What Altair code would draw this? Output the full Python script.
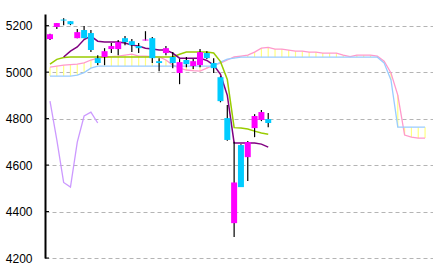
import altair as alt
import pandas as pd

# ---- candles (index 0..32) ----
opens  = [5142, 5194, 5226, 5219, 5146, 5181, 5168, 5060, 5065, 5099, 5099, 5146, 5133, 5112, 5136, 5146, 5047,
          5082, 5065, 4996, 5052, 5026, 5030, 5082, 5039, 4978, 4802, 4350, 4686, 4634, 4759, 4794, 4798]
highs  = [5165, 5211, 5232, 5219, 5185, 5198, 5181, 5073, 5103, 5125, 5138, 5155, 5142, 5125, 5176, 5151, 5060,
          5112, 5086, 5056, 5065, 5056, 5099, 5090, 5060, 4982, 4858, 4700, 4690, 4703, 4819, 4837, 4824]
lows   = [5138, 5185, 5202, 5202, 5146, 5146, 5086, 5030, 5030, 5082, 5073, 5116, 5086, 5082, 5136, 5039, 5004,
          5073, 5017, 4948, 5021, 5013, 5021, 5056, 4996, 4870, 4705, 4290, 4505, 4531, 4720, 4789, 4763]
closes = [5163, 5211, 5222, 5206, 5172, 5146, 5095, 5039, 5090, 5112, 5129, 5129, 5116, 5103, 5140, 5060, 5039,
          5103, 5039, 5043, 5034, 5047, 5086, 5060, 5017, 4875, 4708, 4525, 4505, 4699, 4811, 4828, 4781]

# ---- indicator lines ----
tenkan = [None, None, 5065, 5090, 5108, 5140, 5155, 5133, 5129, 5129, 5129, 5125, 5116, 5112, 5103, 5099, 5095,
          5095, 5082, 5060, 5060, 5060, 5060, 5050, 5030, 4990, 4900, 4695, 4695, 4695, 4695, 4690, 4677]
kijun = [5034, 5055, 5063, 5065, 5065, 5065, 5065, 5065, 5065, 5065, 5065, 5065, 5065, 5065, 5065, 5065, 5065,
         5065, 5065, 5077, 5086, 5086, 5086, 5086, 5082, 5045, 4968, 4761, 4759, 4755, 4746, 4738, 4733]
span_a = [5021, 5026, 5030, 5032, 5034, 5040, 5052, 5060, 5065, 5067, 5069, 5073, 5077, 5069, 5069, 5067, 5065,
          5052, 5030, 5017, 5009, 5006, 5004, 5017, 5030, 5039, 5052, 5065, 5069, 5073, 5086, 5103, 5106, 5099,
          5099, 5095, 5090, 5090, 5086, 5086, 5082, 5082, 5082, 5073, 5067, 5073, 5073, 5073, 5069, 5047, 4996,
          4901, 4729, 4720, 4716, 4716]
span_b = [4983, 4983, 4983, 4983, 4987, 4998, 5017, 5026, 5026, 5026, 5026, 5026, 5026, 5026, 5026, 5026, 5026,
          5026, 5026, 5026, 5026, 5026, 5026, 5026, 5026, 5043, 5056, 5060, 5064, 5064, 5064, 5064, 5064, 5064,
          5064, 5064, 5064, 5064, 5064, 5064, 5064, 5064, 5064, 5064, 5064, 5064, 5064, 5064, 5064, 5039, 4966,
          4763, 4763, 4763, 4763, 4763]
chikou = [4875, 4708, 4525, 4505, 4699, 4811, 4828, 4781]
y_ticks = [4200, 4400, 4600, 4800, 5000, 5200]

candles = pd.DataFrame({"k": list(range(len(opens))), "open": opens, "high": highs,
                        "low": lows, "close": closes})
cloud = pd.DataFrame({"k": list(range(len(span_a))), "a": span_a, "b": span_b})
ten_df = pd.DataFrame({"k": list(range(len(tenkan))), "v": tenkan}).dropna()
kij_df = pd.DataFrame({"k": list(range(len(kijun))), "v": kijun})
chi_df = pd.DataFrame({"k": list(range(len(chikou))), "v": chikou})
tick_df = pd.DataFrame({"v": y_ticks})

XS = alt.Scale(domain=[0, 55.43], nice=False, zero=False)
YS = alt.Scale(domain=[4200, 5250], nice=False, zero=False)
YAX = alt.Axis(values=y_ticks, title=None, grid=True, gridDash=[4, 3], gridColor="#b4b4b4",
               gridWidth=1, ticks=False, domain=True, domainColor="#000000", domainWidth=2,
               labelFont="Liberation Sans", labelFontSize=12, labelColor="#000000", labelPadding=13,
               format="d")


def xk():
    return alt.X("k:Q", scale=XS, axis=None)


def yv(field):
    return alt.Y(field, scale=YS, axis=YAX, title=None)


inticks = alt.Chart(tick_df).mark_rule(color="#000000", strokeWidth=1).encode(
    x=alt.value(0), x2=alt.value(4), y=yv("v:Q"))

hatch = alt.Chart(cloud).mark_rule(color="#ffff80", strokeWidth=1.2, clip=True).encode(
    x=xk(), y=yv("a:Q"), y2="b:Q")

line_a = alt.Chart(cloud).mark_line(color="#ff99cc", strokeWidth=1.3, clip=True).encode(
    x=xk(), y=yv("a:Q"))
line_b = alt.Chart(cloud).mark_line(color="#99ccff", strokeWidth=1.3, clip=True).encode(
    x=xk(), y=yv("b:Q"))

chi = alt.Chart(chi_df).mark_line(color="#cc99ff", strokeWidth=1.3, clip=True).encode(
    x=xk(), y=yv("v:Q"))
kij = alt.Chart(kij_df).mark_line(color="#99cc00", strokeWidth=1.5, clip=True).encode(
    x=xk(), y=yv("v:Q"))
ten = alt.Chart(ten_df).mark_line(color="#800080", strokeWidth=1.5, clip=True).encode(
    x=xk(), y=yv("v:Q"))

wick = alt.Chart(candles).mark_rule(color="#000000", strokeWidth=1.2, clip=True).encode(
    x=xk(), y=yv("low:Q"), y2="high:Q")

body = alt.Chart(candles).transform_calculate(
    dir="datum.close >= datum.open ? 'up' : 'down'"
).mark_bar(size=6, clip=True).encode(
    x=xk(), y=yv("open:Q"), y2="close:Q",
    color=alt.Color("dir:N", scale=alt.Scale(domain=["up", "down"], range=["#ff00ff", "#00ccff"]),
                    legend=None))

chart = alt.layer(hatch, line_a, line_b, chi, kij, ten, wick, body, inticks).properties(
    width=388, height=244,
    padding={"left": 45, "top": 14, "right": 0, "bottom": 14},
    autosize=alt.AutoSizeParams(type="none"),
    background="#ffffff",
).configure_view(stroke=None)

chart.save("out.html", embed_options={"renderer": "svg", "actions": False})
